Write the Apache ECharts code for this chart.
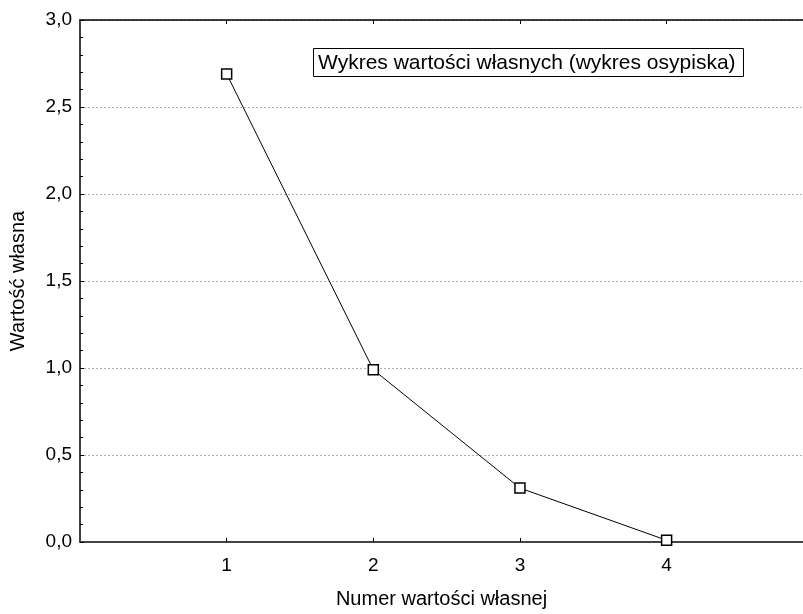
<!DOCTYPE html>
<html>
<head>
<meta charset="utf-8">
<script src="https://cdn.jsdelivr.net/npm/echarts@6/dist/echarts.min.js"></script>
<style>html,body{margin:0;padding:0;background:#fff;overflow:hidden;}#c{width:803px;height:614px;}</style>
</head>
<body>
<div id="c"></div>
<script>
const eigenNumbers = [1, 2, 3, 4];
const eigenValues = [2.69, 0.99, 0.31, 0.01];
const yTickValues = [0, 0.5, 1.0, 1.5, 2.0, 2.5, 3.0];
const chartTitle = 'Wykres wartości własnych (wykres osypiska)';
const xName = 'Numer wartości własnej';
const yName = 'Wartość własna';

const FONT = '"Liberation Sans", Arial, sans-serif';
const chart = echarts.init(document.getElementById('c'));
const fmtComma = v => Number(v).toFixed(1).replace('.', ',');
const X_MAX = 4.93;

chart.setOption({
  animation: false,
  backgroundColor: '#fff',
  title: {
    text: chartTitle,
    left: 313, top: 48,
    padding: [4, 8, 3, 5],
    borderColor: '#000', borderWidth: 1,
    backgroundColor: '#fff',
    textStyle: { fontFamily: FONT, fontSize: 21, fontWeight: 'normal', color: '#000', lineHeight: 22 }
  },
  grid: { left: 80, top: 20, right: 0, bottom: 66, containLabel: false },
  xAxis: [{
    type: 'value', min: 0, max: X_MAX, interval: 1, position: 'bottom',
    name: xName, nameLocation: 'middle', nameGap: 47,
    nameTextStyle: { fontFamily: FONT, fontSize: 20, color: '#000' },
    axisLine: { show: true, onZero: false, lineStyle: { color: '#444', width: 2 } },
    axisTick: { show: true, inside: true, length: 4, customValues: eigenNumbers, lineStyle: { color: '#000' } },
    axisLabel: { margin: 14, fontFamily: FONT, fontSize: 19, color: '#000', customValues: eigenNumbers,
      formatter: v => String(v) },
    splitLine: { show: false }
  }, {
    type: 'value', min: 0, max: X_MAX, interval: 1, position: 'top',
    axisLine: { show: true, onZero: false, lineStyle: { color: '#000', width: 1.5 } },
    axisTick: { show: true, inside: true, length: 4, customValues: eigenNumbers, lineStyle: { color: '#000' } },
    axisLabel: { show: false },
    splitLine: { show: false }
  }],
  yAxis: {
    type: 'value', min: 0, max: 3, interval: 0.5,
    name: yName, nameLocation: 'middle', nameGap: 52,
    nameTextStyle: { fontFamily: FONT, fontSize: 20, color: '#000' },
    axisLine: { show: true, onZero: false, lineStyle: { color: '#000', width: 1.5 } },
    axisTick: { show: true, inside: true, length: 4, lineStyle: { color: '#000' } },
    minorTick: { show: true, splitNumber: 5, length: 3, lineStyle: { color: '#000' } },
    axisLabel: { margin: 8, fontFamily: FONT, fontSize: 19, color: '#000',
      formatter: v => (yTickValues.some(t => Math.abs(t - v) < 1e-9) ? fmtComma(v) : '') },
    splitLine: { show: true, lineStyle: { color: '#b0b0b0', width: 1, type: [2, 2] } }
  },
  series: [{
    type: 'line',
    xAxisIndex: 0,
    data: eigenNumbers.map((n, i) => [n, eigenValues[i]]),
    symbol: 'rect', symbolSize: 10,
    itemStyle: { color: '#fff', borderColor: '#000', borderWidth: 1.5 },
    lineStyle: { color: '#000', width: 1 },
    clip: false,
    z: 5
  }]
});
</script>
</body>
</html>
